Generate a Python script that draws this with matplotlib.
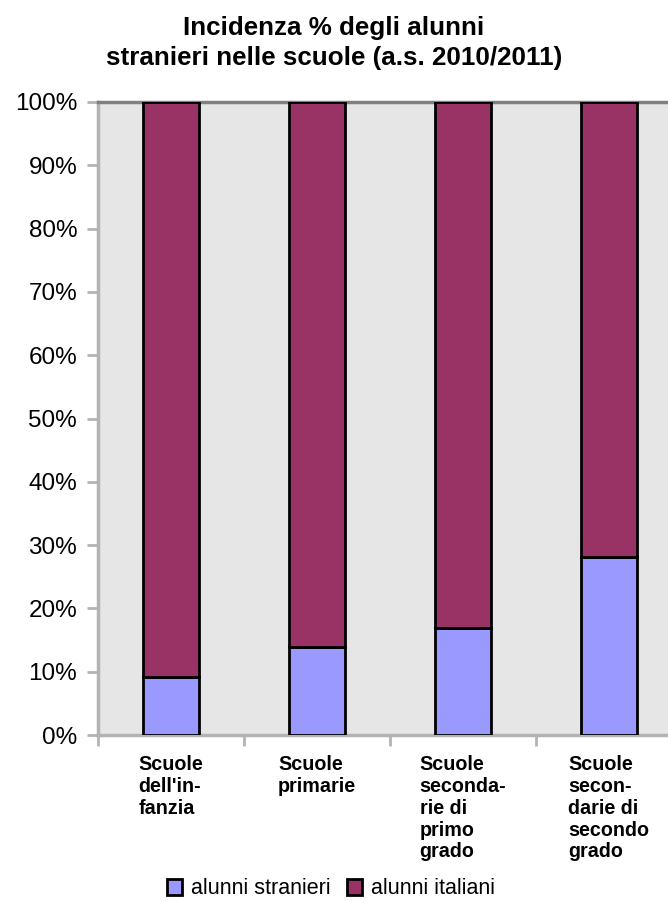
import matplotlib
matplotlib.use("Agg")
import matplotlib.pyplot as plt
from matplotlib.patches import Patch
from matplotlib.ticker import FuncFormatter

categories = ["Scuole\ndell'in-\nfanzia", "Scuole\nprimarie",
              "Scuole\nseconda-\nrie di\nprimo\ngrado",
              "Scuole\nsecon-\ndarie di\nsecondo\ngrado"]
stranieri = [9.2, 13.9, 16.9, 28.1]
italiani = [100 - v for v in stranieri]
series_names = ["alunni stranieri", "alunni italiani"]
colors = ["#9999ff", "#993366"]
title_lines = ["Incidenza % degli alunni", "stranieri nelle scuole (a.s. 2010/2011)"]

plt.rcParams['font.family'] = ['Liberation Sans', 'DejaVu Sans']

W, H = 668, 901
fig = plt.figure(figsize=(W / 100, H / 100), dpi=100)
left, right, top, bottom = 98, 682, 102, 735
ax = fig.add_axes([left / W, 1 - bottom / H, (right - left) / W, (bottom - top) / H])
ax.set_facecolor("#e6e6e6")

x = [i + 0.5 for i in range(len(categories))]
ax.bar(x, stranieri, width=0.39, color=colors[0], edgecolor="black", linewidth=2, zorder=3)
ax.bar(x, italiani, width=0.39, bottom=stranieri, color=colors[1], edgecolor="black", linewidth=2, zorder=3)

ax.set_xlim(0, 4)
ax.set_ylim(0, 100)
ax.set_yticks(range(0, 101, 10))
ax.yaxis.set_major_formatter(FuncFormatter(lambda v, p: f"{int(v)}%"))
ax.set_xticks(range(0, 5))
ax.set_xticklabels([])
ax.tick_params(axis='y', length=8, width=2, color="#b3b3b3", labelsize=17.5, pad=7)
ax.tick_params(axis='x', length=8, width=2, color="#b3b3b3")

for s in ["left", "bottom"]:
    ax.spines[s].set_color("#b3b3b3")
    ax.spines[s].set_linewidth(2.5)
ax.spines["right"].set_visible(False)
ax.spines["top"].set_color("#808080")
ax.spines["top"].set_linewidth(2.5)

label_top = 1 - 755 / H
for xi, lab in zip(x, categories):
    xf = fig.transFigure.inverted().transform(ax.transData.transform((xi, 0)))[0]
    fig.text(xf, label_top, lab, ha="center", va="top", multialignment="left",
             fontsize=14.2, fontweight="bold", linespacing=1.19)

for yb, line in zip([35, 65], title_lines):
    fig.text(0.5, 1 - yb / H, line, ha="center", va="baseline", fontsize=18.7,
             fontweight="bold")

handles = [Patch(facecolor=c, edgecolor="black", linewidth=2) for c in colors]
fig.legend(handles, series_names, loc="center", bbox_to_anchor=(331 / W, 1 - 889 / H),
           ncol=2, frameon=False, fontsize=15.5, handlelength=0.7, handleheight=0.7,
           handletextpad=0.4, columnspacing=0.8)

fig.savefig("out.png", dpi=100)
